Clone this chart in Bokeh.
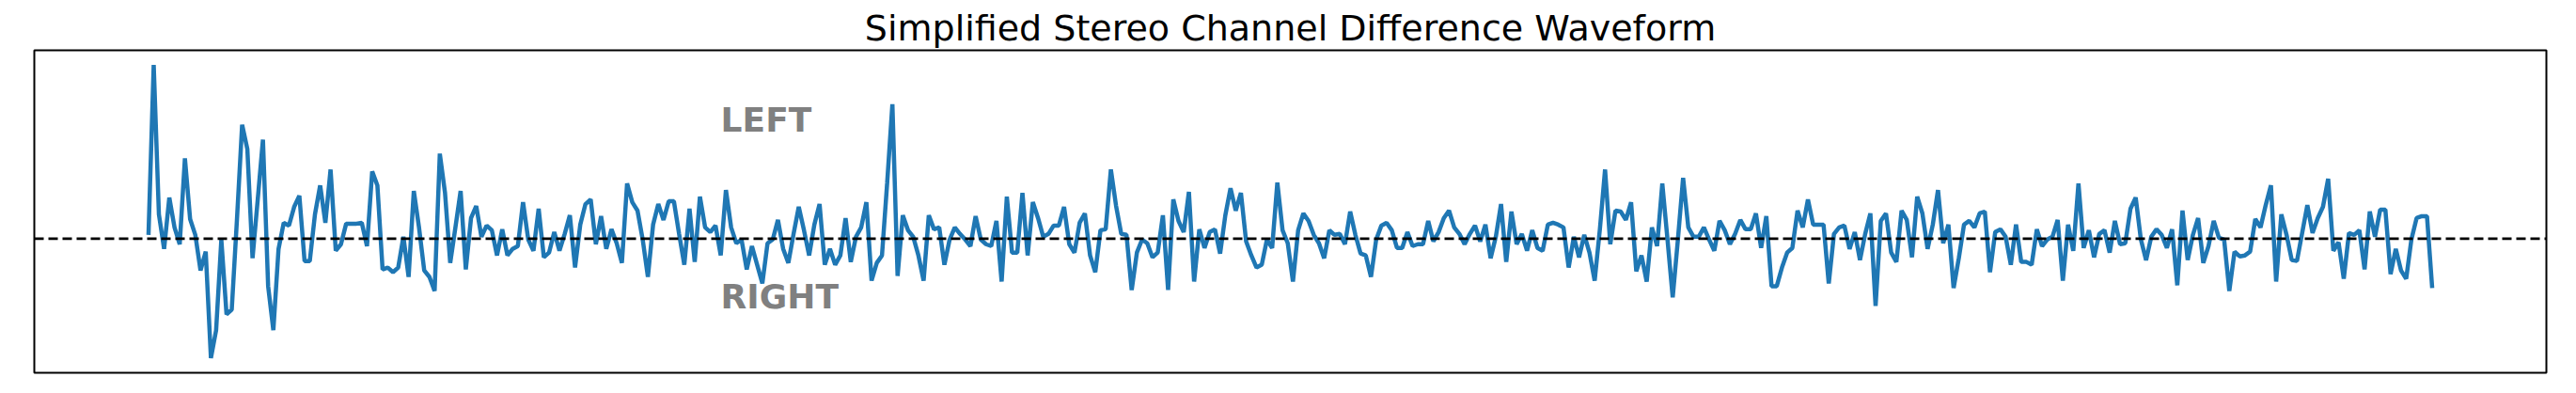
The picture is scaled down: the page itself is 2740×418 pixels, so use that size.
from bokeh.plotting import figure
from bokeh.models import Span, ColumnDataSource
from bokeh.core.properties import value
from bokeh.embed import file_html
from bokeh.resources import INLINE

title_text = "Simplified Stereo Channel Difference Waveform"

seg_a = [0.04, 1.86, 0.26, -0.11, 0.44, 0.12, -0.06, 0.86, 0.21, 0.04,
         -0.34, -0.14, -1.28, -0.98, -0.01, -0.81, -0.76, 0.20, 1.22, 0.96,
         -0.21, 0.42, 1.06, -0.51, -0.98, -0.11, 0.17, 0.14, 0.34, 0.46,
         -0.24, -0.24, 0.26, 0.57, 0.17, 0.74, -0.13, -0.06, 0.16, 0.16,
         0.16, 0.17, -0.08, 0.72, 0.57, -0.33, -0.31, -0.36, -0.31, 0.02,
         -0.41, 0.51, 0.12, -0.34, -0.41, -0.56, 0.91, 0.49, -0.26, 0.12,
         0.51, -0.33, 0.22]
seg_b = [0.35, 0.02, 0.14, 0.09, -0.18, 0.10, -0.18, -0.11, -0.08, 0.39,
         -0.01, -0.13, 0.32, -0.20, -0.15, 0.07, -0.13, 0.05, 0.25, -0.31,
         0.15, 0.37, 0.42, -0.06, 0.24, -0.11, 0.10, -0.05, -0.26, 0.59,
         0.39, 0.30, -0.01, -0.41, 0.15, 0.37, 0.20, 0.40, 0.40, 0.05,
         -0.28, 0.32, -0.25, 0.45, 0.12, 0.07, 0.14, -0.18, 0.52, 0.12,
         -0.05, -0.01, -0.33, -0.08]
seg_c = [-0.28, -0.48, -0.05, -0.01, 0.20, -0.11, -0.26, 0.05, 0.34, 0.09,
         -0.18, 0.15, 0.37, -0.28, -0.11, -0.28, -0.18, 0.22, -0.25, 0.02,
         0.12, 0.39, -0.45, -0.26, -0.18, 0.60, 1.44, -0.40, 0.25, 0.09,
         0.02, -0.18, -0.45, 0.25, 0.10, 0.12, -0.28, -0.01, 0.12, 0.05,
         -0.01, -0.08, 0.24, -0.01, -0.06, -0.08, 0.19, -0.46, 0.45, -0.15,
         -0.15, 0.49, -0.18, 0.39, 0.22]
seg_d = [0.02, 0.05, 0.14, 0.14, 0.34, -0.06, -0.15, 0.17, 0.27, -0.18,
         -0.36, 0.09, 0.10, 0.74, 0.35, 0.05, 0.04, -0.55, -0.15, -0.01,
         -0.05, -0.20, -0.15, 0.25, -0.55, 0.42, 0.19, 0.07, 0.50, -0.46,
         0.10, -0.10, 0.07, 0.10, -0.16, 0.25, 0.54, 0.30, 0.49, -0.03,
         -0.18, -0.31, -0.28, -0.01, -0.10, 0.60, 0.09, -0.05, -0.46, 0.09]
seg_e = [0.27, 0.19, 0.04, -0.05, -0.21, 0.09, 0.04, 0.05, -0.06, 0.29,
         0.04, -0.16, -0.18, -0.41, -0.01, 0.14, 0.17, 0.09, -0.10, -0.10,
         0.07, -0.08, -0.06, -0.06, 0.19, -0.03, 0.07, 0.22, 0.30, 0.12,
         0.05, -0.06, 0.05, 0.14, -0.03, 0.15, -0.21, 0.02, 0.37, -0.25,
         0.29, -0.06, 0.05, -0.13, 0.09, -0.10, -0.13, 0.15, 0.17, 0.15,
         0.12, -0.31, 0.02, -0.20, 0.04, -0.15]
seg_f = [-0.45, 0.10, 0.74, -0.06, 0.30, 0.29, 0.20, 0.39, -0.35, -0.18,
         -0.46, 0.12, -0.08, 0.59, -0.01, -0.63, -0.01, 0.65, 0.12, 0.02,
         0.02, 0.12, -0.01, -0.13, 0.19, 0.09, -0.06, 0.05, 0.20, 0.10,
         0.10, 0.27, -0.10, 0.24, -0.51, -0.51, -0.31, -0.15, -0.10, 0.30,
         0.12, 0.42, 0.15, 0.15, 0.15, -0.48, 0.05, 0.12, 0.14, -0.11,
         0.07, -0.23, 0.05, 0.27, -0.72]
seg_g = [0.19, 0.27, -0.15, -0.25, 0.30, 0.20, -0.20, 0.45, 0.27, -0.11,
         0.15, 0.52, -0.05, 0.15, -0.53, -0.21, 0.15, 0.19, 0.12, 0.27,
         0.29, -0.36, 0.07, 0.10, 0.02, -0.28, 0.15, -0.25, -0.25, -0.28,
         0.10, -0.08, -0.01, 0.02, 0.20, -0.45, 0.15, -0.13, 0.59, -0.10,
         0.09, -0.20, 0.05, 0.09, -0.15, 0.19, -0.06, -0.05, 0.32, 0.44,
         -0.01, -0.23, 0.02, 0.10, 0.04, -0.10, 0.10, -0.50, 0.30]
seg_h = [-0.23, 0.04, 0.22, -0.26, -0.08, 0.19, 0.01, -0.01, -0.56, -0.14,
         -0.19, -0.18, -0.14, 0.21, 0.12, 0.36, 0.57, -0.46, 0.26, 0.04,
         -0.23, -0.24, 0.06, 0.36, 0.06, 0.22, 0.34, 0.64, -0.13, -0.04,
         -0.43, 0.06, 0.04, 0.09, -0.33, 0.29, 0.02, 0.31, 0.31, -0.38,
         -0.11, -0.34, -0.43, -0.01, 0.22, 0.24, 0.24, -0.53]

diff_values = seg_a + seg_b + seg_c + seg_d + seg_e + seg_f + seg_g + seg_h
sample_index = list(range(len(diff_values)))

label_texts = ["LEFT", "RIGHT"]
label_x = [110, 110]
label_y = [1.27, -0.62]

n = len(diff_values)
xpad = 0.05 * (n - 1)
ymin, ymax = min(diff_values), max(diff_values)
ypad = 0.05 * (ymax - ymin)

p = figure(width=2724, height=402, output_backend="svg", toolbar_location=None,
           x_range=(-xpad, n - 1 + xpad), y_range=(ymin - ypad, ymax + ypad),
           min_border_left=36, min_border_right=16, min_border_top=53,
           min_border_bottom=6)
p.title.text = title_text
p.title.align = "center"
p.title.vertical_align = "top"
p.title.text_font = "DejaVu Sans"
p.title.text_font_size = "38px"
p.title.text_font_style = "normal"
p.title.text_color = "black"
p.title.text_line_height = 0.8
p.title.standoff = 0
p.title.offset = 0

p.xaxis.visible = False
p.yaxis.visible = False
p.xgrid.visible = False
p.ygrid.visible = False
p.outline_line_color = "black"
p.outline_line_width = 2
p.outline_line_alpha = 1.0
p.background_fill_color = "white"
p.border_fill_color = "white"

src = ColumnDataSource(dict(x=sample_index, y=diff_values))
p.line("x", "y", source=src, line_color="#1f77b4", line_width=4.5)

zero = Span(location=0, dimension="width", line_color="black",
            line_dash="10 5", line_width=2.7)
p.add_layout(zero)

lsrc = ColumnDataSource(dict(x=label_x, y=label_y, t=label_texts))
p.text("x", "y", text="t", source=lsrc, text_font=value("DejaVu Sans"),
       text_font_style="bold", text_font_size="36px", text_color="#808080",
       text_align="left", text_baseline="middle")

open("out.html", "w").write(file_html(p, INLINE))
